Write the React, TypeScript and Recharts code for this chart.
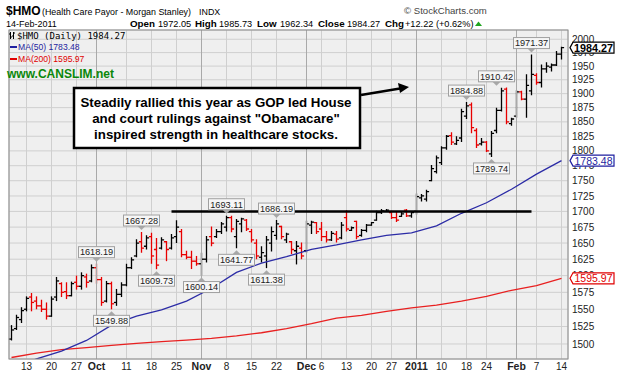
import { Bar, CartesianGrid, ComposedChart, Line, ReferenceDot, ReferenceLine, XAxis, YAxis } from "recharts";

const FONT = "'Liberation Sans', Arial, sans-serif";

// trading sessions, Sep 8 2010 - Feb 14 2011
const dates = [
  "9/8", "9/9", "9/10", "9/13", "9/14", "9/15", "9/16", "9/17", "9/20", "9/21", "9/22", "9/23", "9/24", "9/27", "9/28", "9/29", "9/30",
  "10/1", "10/4", "10/5", "10/6", "10/7", "10/8", "10/11", "10/12", "10/13", "10/14", "10/15", "10/18", "10/19", "10/20", "10/21", "10/22", "10/25", "10/26", "10/27", "10/28", "10/29",
  "11/1", "11/2", "11/3", "11/4", "11/5", "11/8", "11/9", "11/10", "11/11", "11/12", "11/15", "11/16", "11/17", "11/18", "11/19", "11/22", "11/23", "11/24", "11/26", "11/29", "11/30",
  "12/1", "12/2", "12/3", "12/6", "12/7", "12/8", "12/9", "12/10", "12/13", "12/14", "12/15", "12/16", "12/17", "12/20", "12/21", "12/22", "12/23", "12/27", "12/28", "12/29", "12/30", "12/31",
  "1/3", "1/4", "1/5", "1/6", "1/7", "1/10", "1/11", "1/12", "1/13", "1/14", "1/18", "1/19", "1/20", "1/21", "1/24", "1/25", "1/26", "1/27", "1/28", "1/31",
  "2/1", "2/2", "2/3", "2/4", "2/7", "2/8", "2/9", "2/10", "2/11", "2/14",
];

const opens = [
  1507, 1522, 1535, 1550, 1568, 1562, 1555, 1550, 1540, 1568,
  1588, 1576, 1570, 1590, 1584, 1598, 1592, 1612, 1594, 1562,
  1588, 1560, 1572, 1586, 1612, 1630, 1652, 1645, 1660, 1640,
  1642, 1652, 1642, 1660, 1668, 1632, 1628, 1622, 1618, 1625,
  1660, 1660, 1668, 1675, 1690, 1660, 1680, 1686, 1668, 1650,
  1628, 1630, 1650, 1662, 1676, 1655, 1652, 1638, 1642, 1638,
  1678, 1682, 1672, 1660, 1655, 1664, 1658, 1690, 1670, 1684,
  1662, 1670, 1678, 1686, 1698, 1700, 1698, 1690, 1692, 1702,
  1693, 1700, 1722, 1720, 1750, 1765, 1780, 1805, 1826, 1812,
  1822, 1860, 1880, 1835, 1812, 1815, 1795, 1835, 1870, 1908,
  1847, 1860, 1903, 1890, 1905, 1933, 1920, 1945, 1948, 1952,
  1972.05,
];
const highs = [
  1527, 1542, 1553, 1569, 1574, 1569, 1564, 1560, 1569, 1598,
  1590, 1590, 1591, 1600, 1605, 1603, 1617, 1618.19, 1598, 1592,
  1591, 1580, 1590, 1618, 1628, 1656, 1667.28, 1662, 1666, 1658,
  1659, 1653, 1664, 1686, 1672, 1638, 1638, 1630, 1635, 1661,
  1676, 1672, 1683, 1693.11, 1693, 1688, 1690, 1688, 1672, 1656,
  1645, 1661, 1676, 1686.19, 1677, 1666, 1653, 1653, 1651, 1685,
  1685, 1683, 1683, 1669, 1669, 1669, 1683, 1702, 1676, 1685,
  1672, 1680, 1683, 1701, 1704, 1704, 1701, 1699, 1699, 1704,
  1700, 1729, 1728, 1735, 1776, 1792, 1808, 1827, 1832, 1825,
  1873, 1884.88, 1884, 1839, 1822, 1817, 1834, 1875, 1910.42, 1911,
  1857, 1906, 1905, 1935, 1971.37, 1937, 1953, 1957, 1955, 1978,
  1985.73,
];
const lows = [
  1505, 1520, 1530, 1547, 1547, 1550, 1546, 1535, 1539, 1562,
  1568, 1565, 1569, 1579, 1579, 1582, 1590, 1588, 1555, 1560,
  1549.88, 1555, 1568, 1584, 1610, 1628, 1635, 1640, 1618, 1609.73,
  1640, 1622, 1640, 1650, 1628, 1625, 1610, 1615, 1600.14, 1620,
  1645, 1658, 1664, 1668, 1667, 1641.77, 1667, 1669, 1651, 1625,
  1620, 1611.38, 1637, 1655, 1656, 1650, 1633, 1617, 1625, 1635,
  1664, 1664, 1653, 1651, 1653, 1651, 1656, 1668, 1669, 1656,
  1660, 1667, 1677, 1685, 1696, 1699, 1688, 1683, 1691, 1691,
  1690, 1695, 1716, 1716, 1749, 1762, 1776, 1802, 1810, 1810,
  1815, 1855, 1830, 1805, 1809, 1798, 1789.74, 1830, 1868, 1846,
  1843, 1857, 1888, 1857, 1897, 1916, 1911, 1938, 1940, 1950,
  1962.34,
];
const closes = [
  1520, 1538, 1548, 1566, 1560, 1555, 1550, 1540, 1565, 1592,
  1575, 1570, 1588, 1584, 1600, 1590, 1612, 1594, 1560, 1588,
  1558, 1572, 1586, 1612, 1624, 1650, 1642, 1658, 1630, 1616,
  1655, 1640, 1658, 1675, 1632, 1628, 1622, 1618, 1625, 1655,
  1650, 1668, 1680, 1690, 1672, 1684, 1688, 1672, 1655, 1630,
  1635, 1655, 1668, 1680, 1660, 1664, 1640, 1645, 1630, 1680,
  1683, 1668, 1660, 1655, 1665, 1656, 1678, 1672, 1674, 1660,
  1670, 1678, 1682, 1698, 1701, 1702, 1690, 1686, 1696, 1693,
  1698, 1724, 1725, 1732, 1770, 1788, 1805, 1825, 1815, 1818,
  1868, 1878, 1840, 1810, 1815, 1800, 1830, 1870, 1905, 1850,
  1855, 1903, 1890, 1915, 1935, 1920, 1945, 1950, 1952, 1972.05,
  1984.27,
];

// moving averages read every 5th session
const ma50 = [1466, 1479, 1490, 1505, 1527, 1540, 1549, 1562, 1581, 1605, 1619, 1629, 1640, 1647, 1655, 1662, 1666, 1677, 1697, 1714, 1736, 1761, 1783.48];
const ma200 = [1481, 1487, 1492, 1495, 1498, 1501, 1503.5, 1505.5, 1508, 1511.5, 1516, 1522, 1529, 1537, 1541, 1547, 1552, 1556, 1562, 1569, 1578, 1585, 1595.97];

const yTicks = [1500, 1525, 1550, 1575, 1600, 1625, 1650, 1675, 1700, 1725, 1750, 1775, 1800, 1825, 1850, 1875, 1900, 1925, 1950, 1975, 2000];
const tickDates = ["9/13", "9/20", "9/27", "10/1", "10/11", "10/18", "10/25", "11/1", "11/8", "11/15", "11/22", "12/1", "12/6", "12/13", "12/20", "12/27", "1/3", "1/10", "1/18", "1/24", "2/1", "2/7", "2/14"];
const tickLabels = ["13", "20", "27", "Oct", "11", "18", "25", "Nov", "8", "15", "22", "Dec", "6", "13", "20", "27", "2011", "10", "18", "24", "Feb", "7", "14"];
const monthLabels = ["Oct", "Nov", "Dec", "2011", "Feb"];

const highNoteDates = ["10/1", "10/14", "11/8", "11/22", "1/18", "1/26", "2/4"];
const highNoteValues = [1618.19, 1667.28, 1693.11, 1686.19, 1884.88, 1910.42, 1971.37];
const lowNoteDates = ["10/6", "10/19", "11/1", "11/10", "11/18", "1/25"];
const lowNoteValues = [1549.88, 1609.73, 1600.14, 1641.77, 1611.38, 1789.74];

const resistance = 1700;
const resistanceFrom = "10/22";
const resistanceTo = "2/4";

const lastClose = 1984.27;
const lastMa50 = 1783.48;
const lastMa200 = 1595.97;

const Y_DOMAIN = [1478.9, 2017.6];

const data = dates.map((date, i) => ({
  date,
  open: opens[i],
  high: highs[i],
  low: lows[i],
  close: closes[i],
  range: [lows[i], highs[i]],
  up: i === 0 || closes[i] >= closes[i - 1],
  ma50: i % 5 === 0 ? ma50[i / 5] : null,
  ma200: i % 5 === 0 ? ma200[i / 5] : null,
}));

const OhlcBar = (props: any) => {
  const { x, y, width, height, payload } = props;
  if (x == null || y == null) return null;
  const cx = Math.round(x + width / 2) + 0.5;
  const top = Math.min(y, y + height);
  const bot = Math.max(y, y + height);
  const lh = Math.log(payload.high);
  const ll = Math.log(payload.low);
  const toY = (v: number) => top + ((bot - top) * (lh - Math.log(v))) / (lh - ll || 1);
  const color = payload.up ? "#000" : "#e80000";
  return (
    <g stroke={color} strokeWidth={1.3}>
      <line x1={cx} x2={cx} y1={top} y2={bot} />
      <line x1={cx - 2.6} x2={cx} y1={toY(payload.open)} y2={toY(payload.open)} />
      <line x1={cx} x2={cx + 2.6} y1={toY(payload.close)} y2={toY(payload.close)} />
    </g>
  );
};

const noteShape = (text: string, above: boolean) => (p: any) => {
  const { cx, cy } = p;
  const w = 36;
  const h = 11;
  const by = above ? cy - 6 - h : cy + 6;
  const tip = above ? cy - 2 : cy + 2;
  const edge = above ? by + h : by;
  return (
    <g>
      <polygon points={`${cx - 4},${edge} ${cx + 4},${edge} ${cx},${tip}`} fill="#a8a8a8" />
      <rect x={cx - w / 2} y={by} width={w} height={h} fill="#f6f6f6" stroke="#a0a0a0" strokeWidth={1} />
      <text x={cx} y={by + 8.8} textAnchor="middle" fontSize={9.2} fontFamily={FONT} fill="#222">
        {text}
      </text>
    </g>
  );
};

const axisTag = (text: string, color: string, bold: boolean) => (p: any) => {
  const { cx, cy } = p;
  const tip = cx + 6;
  const l = tip + 3;
  const r = tip + 44;
  return (
    <g>
      <polygon
        points={`${tip},${cy} ${l},${cy - 5.5} ${r},${cy - 5.5} ${r},${cy + 5.5} ${l},${cy + 5.5}`}
        fill="#fff"
        stroke={color}
        strokeWidth={1.2}
      />
      <text x={(l + r) / 2} y={cy + 4} textAnchor="middle" fontSize={bold ? 10.8 : 10.5} fontWeight={bold ? "bold" : "normal"} fontFamily={FONT} fill={color}>
        {text}
      </text>
    </g>
  );
};

const XTick = (props: any) => {
  const { x, y, payload } = props;
  const label = tickLabels[tickDates.indexOf(payload.value)];
  const bold = monthLabels.includes(label);
  return (
    <text x={x} y={y} dy="0.71em" textAnchor="middle" fontSize={bold ? 10.5 : 10} fontWeight={bold ? "bold" : "normal"} fontFamily={FONT} fill="#222">
      {label}
    </text>
  );
};

const App = () => {
  return (
    <div style={{ position: "absolute", left: 0, top: 0, width: 617, height: 379, background: "#fff" }}>
      <ComposedChart width={617} height={379} data={data} margin={{ top: 30, right: 0, bottom: 0, left: 9 }}>
        <CartesianGrid stroke="#cfcfcf" fill="#efefef" strokeWidth={1} />
        {monthLabels.map((m) => (
          <ReferenceLine key={m} x={tickDates[tickLabels.indexOf(m)]} stroke="#a9a9a9" strokeWidth={1} />
        ))}
        <XAxis
          dataKey="date"
          type="category"
          ticks={tickDates}
          interval={0}
          padding={{ left: 0, right: 4 }}
          height={20}
          tickSize={0}
          tickMargin={4}
          axisLine={false}
          tick={<XTick />}
        />
        <YAxis
          orientation="right"
          scale="log"
          domain={Y_DOMAIN}
          allowDataOverflow
          ticks={yTicks}
          interval={0}
          width={49}
          tickSize={0}
          tickMargin={4}
          axisLine={false}
          tick={{ fontSize: 10, fill: "#222", fontFamily: FONT }}
        />
        <Line dataKey="ma200" stroke="#e82020" strokeWidth={1.3} dot={false} connectNulls isAnimationActive={false} />
        <Line dataKey="ma50" stroke="#2c2ca6" strokeWidth={1.3} dot={false} connectNulls isAnimationActive={false} />
        <Bar dataKey="range" barSize={5} shape={OhlcBar} isAnimationActive={false} />
        <ReferenceLine
          segment={[
            { x: resistanceFrom, y: resistance },
            { x: resistanceTo, y: resistance },
          ]}
          stroke="#000"
          strokeWidth={2.5}
        />
        {highNoteDates.map((d, i) => (
          <ReferenceDot key={"h" + d} x={d} y={highNoteValues[i]} ifOverflow="visible" shape={noteShape(highNoteValues[i].toFixed(2), true)} />
        ))}
        {lowNoteDates.map((d, i) => (
          <ReferenceDot key={"l" + d} x={d} y={lowNoteValues[i]} ifOverflow="visible" shape={noteShape(lowNoteValues[i].toFixed(2), false)} />
        ))}
      </ComposedChart>

      {/* second layer, same scales, so the last-value tags sit over the axis labels */}
      <div style={{ position: "absolute", left: 0, top: 0 }}>
        <ComposedChart width={617} height={379} data={data} margin={{ top: 30, right: 49, bottom: 20, left: 9 }}>
          <XAxis dataKey="date" type="category" padding={{ left: 0, right: 4 }} hide />
          <YAxis scale="log" domain={Y_DOMAIN} allowDataOverflow hide />
          <Line dataKey="close" stroke="none" dot={false} isAnimationActive={false} />
          <ReferenceDot x={dates[dates.length - 1]} y={lastClose} ifOverflow="visible" shape={axisTag(lastClose.toFixed(2), "#000", true)} />
          <ReferenceDot x={dates[dates.length - 1]} y={lastMa50} ifOverflow="visible" shape={axisTag(lastMa50.toFixed(2), "#1f1fa0", false)} />
          <ReferenceDot x={dates[dates.length - 1]} y={lastMa200} ifOverflow="visible" shape={axisTag(lastMa200.toFixed(2), "#e00000", false)} />
        </ComposedChart>
      </div>

      <svg width={617} height={379} style={{ position: "absolute", left: 0, top: 0, pointerEvents: "none" }} fontFamily={FONT}>
        <rect x={9} y={30} width={559} height={329} fill="none" stroke="#8c8c8c" strokeWidth={1} />

        {/* header */}
        <text x={6} y={15} fontSize={12} fontWeight="bold" fill="#000">$HMO</text>
        <text x={42} y={15} fontSize={8.9} fill="#000">(Health Care Payor - Morgan Stanley)</text>
        <text x={199} y={15} fontSize={8.9} fill="#000">INDX</text>
        <text x={404} y={14} fontSize={9.6} fill="#444">© StockCharts.com</text>
        <text x={6} y={27} fontSize={9} fill="#000">14-Feb-2011</text>
        <text y={27} fontSize={9.2} fill="#000">
          <tspan x={130} fontWeight="bold" fontSize={9.8}>Open</tspan>
          <tspan x={158}>1972.05</tspan>
          <tspan x={195} fontWeight="bold" fontSize={9.8}>High</tspan>
          <tspan x={219}>1985.73</tspan>
          <tspan x={257} fontWeight="bold" fontSize={9.8}>Low</tspan>
          <tspan x={280}>1962.34</tspan>
          <tspan x={318} fontWeight="bold" fontSize={9.8}>Close</tspan>
          <tspan x={347}>1984.27</tspan>
          <tspan x={385} fontWeight="bold" fontSize={9.8}>Chg</tspan>
          <tspan x={405}>+12.22 (+0.62%)</tspan>
        </text>
        <polygon points="475,26 482,26 478.5,21.5" fill="#1fa51f" />

        {/* legend */}
        <g stroke="#000" strokeWidth={1}>
          <line x1={10.5} x2={10.5} y1={32} y2={39} />
          <line x1={9} x2={10.5} y1={34} y2={34} />
          <line x1={10.5} x2={12} y1={37} y2={37} />
          <line x1={13.5} x2={13.5} y1={32} y2={39} />
          <line x1={12} x2={13.5} y1={36} y2={36} />
          <line x1={13.5} x2={15} y1={33} y2={33} />
        </g>
        <text x={17} y={39} fontSize={9} fontFamily="'DejaVu Sans Mono', monospace" fill="#000">$HMO (Daily) 1984.27</text>
        <line x1={10} x2={17} y1={47} y2={47} stroke="#1f1fa0" strokeWidth={2} />
        <text x={18} y={50} fontSize={8.6} fill="#1f1fa0">MA(50) 1783.48</text>
        <line x1={10} x2={17} y1={59} y2={59} stroke="#e00000" strokeWidth={2} />
        <text x={18} y={62} fontSize={8.6} fill="#e00000">MA(200) 1595.97</text>
        <text x={7} y={78} fontSize={12} fontWeight="bold" fill="#0a870a">www.CANSLIM.net</text>

        {/* annotation */}
        <rect x={74} y={88} width={286} height={60} fill="#fff" stroke="#000" strokeWidth={2.5} />
        <g fontSize={13.3} fontWeight="bold" fill="#000" textAnchor="middle">
          <text x={216} y={107}>Steadily rallied this year as GOP led House</text>
          <text x={216} y={123}>and court rulings against "Obamacare"</text>
          <text x={216} y={139}>inspired strength in healthcare stocks.</text>
        </g>
        <line x1={361} y1={95} x2={400} y2={88.5} stroke="#000" strokeWidth={2.5} />
        <polygon points="409,87 398,83 400,93" fill="#000" />
      </svg>
    </div>
  );
};

export default App;
